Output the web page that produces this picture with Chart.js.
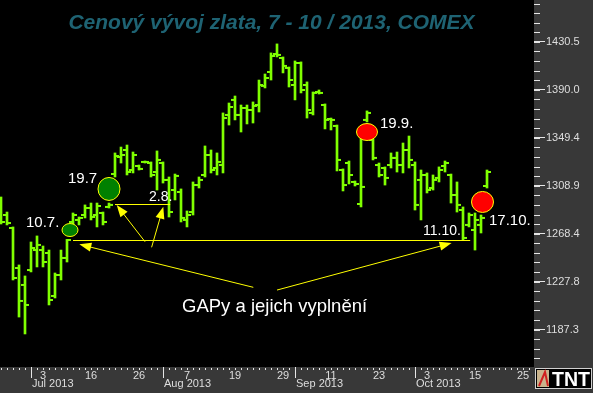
<!DOCTYPE html>
<html>
<head>
<meta charset="utf-8">
<script src="https://cdn.jsdelivr.net/npm/chart.js@4.4.0/dist/chart.umd.min.js"></script>
<style>
  html, body { margin: 0; padding: 0; background: #000; }
  canvas { display: block; }
</style>
</head>
<body>
<canvas id="chart" width="593" height="393"></canvas>
<script>
/* Trading days on the x axis (weekdays, Jul 4 and Sep 2 closed) */
const dates = [
  "2013-06-24","2013-06-25","2013-06-26","2013-06-27","2013-06-28",
  "2013-07-01","2013-07-02","2013-07-03","2013-07-05",
  "2013-07-08","2013-07-09","2013-07-10","2013-07-11","2013-07-12",
  "2013-07-15","2013-07-16","2013-07-17","2013-07-18","2013-07-19",
  "2013-07-22","2013-07-23","2013-07-24","2013-07-25","2013-07-26",
  "2013-07-29","2013-07-30","2013-07-31","2013-08-01","2013-08-02",
  "2013-08-05","2013-08-06","2013-08-07","2013-08-08","2013-08-09",
  "2013-08-12","2013-08-13","2013-08-14","2013-08-15","2013-08-16",
  "2013-08-19","2013-08-20","2013-08-21","2013-08-22","2013-08-23",
  "2013-08-26","2013-08-27","2013-08-28","2013-08-29","2013-08-30",
  "2013-09-03","2013-09-04","2013-09-05","2013-09-06",
  "2013-09-09","2013-09-10","2013-09-11","2013-09-12","2013-09-13",
  "2013-09-16","2013-09-17","2013-09-18","2013-09-19","2013-09-20",
  "2013-09-23","2013-09-24","2013-09-25","2013-09-26","2013-09-27",
  "2013-09-30","2013-10-01","2013-10-02","2013-10-03","2013-10-04",
  "2013-10-07","2013-10-08","2013-10-09","2013-10-10","2013-10-11",
  "2013-10-14","2013-10-15","2013-10-16","2013-10-17","2013-10-18",
  "2013-10-21","2013-10-22","2013-10-23","2013-10-24","2013-10-25","2013-10-28"
];

/* Daily OHLC, USD/oz */
const opens = [
  1292.6, 1284.1, 1273.1, 1239.3, 1225.0, 1237.6, 1254.5, 1254.5, 1252.0, 1215.7,
  1233.4, 1247.8, 1278.2, 1279.9, 1284.1, 1290.0, 1284.1, 1285.8, 1290.9, 1318.7,
  1333.1, 1339.0, 1322.1, 1325.5, 1328.9, 1328.0, 1320.4, 1328.0, 1313.7, 1305.2,
  1303.5, 1279.9, 1286.6, 1309.4, 1317.9, 1334.8, 1323.8, 1326.3, 1368.6, 1381.3,
  1368.6, 1374.5, 1372.8, 1377.0, 1393.1, 1404.9, 1420.1, 1416.7, 1408.3, 1393.9,
  1412.5, 1393.9, 1370.3, 1388.0, 1377.0, 1365.2, 1359.3, 1322.1, 1328.0, 1312.0,
  1293.4, 1364.4, 1347.5, 1326.3, 1323.8, 1326.3, 1332.3, 1326.3, 1339.0, 1326.3,
  1313.7, 1317.9, 1306.9, 1315.4, 1325.5, 1317.9, 1301.0, 1288.3, 1275.7, 1271.4,
  1275.7, 1308.6
];
const highs = [
  1299.3, 1286.6, 1274.0, 1241.9, 1232.6, 1261.3, 1266.4, 1257.9, 1254.5, 1235.1,
  1254.5, 1263.5, 1285.8, 1282.4, 1292.6, 1294.2, 1294.2, 1286.6, 1294.2, 1336.5,
  1341.5, 1343.2, 1337.3, 1326.3, 1329.7, 1328.9, 1338.2, 1328.9, 1316.2, 1318.7,
  1306.1, 1287.5, 1312.0, 1316.2, 1342.4, 1339.0, 1336.5, 1370.3, 1378.7, 1384.6,
  1377.0, 1377.0, 1379.6, 1398.1, 1403.2, 1421.0, 1428.6, 1417.6, 1409.1, 1414.2,
  1413.4, 1396.5, 1388.0, 1389.7, 1377.9, 1366.0, 1360.1, 1323.0, 1329.7, 1312.8,
  1355.9, 1372.0, 1348.3, 1328.0, 1324.7, 1336.5, 1337.3, 1344.9, 1350.8, 1328.9,
  1322.1, 1319.6, 1317.9, 1324.7, 1329.7, 1318.7, 1312.0, 1290.9, 1285.8, 1285.8,
  1284.1, 1322.1
];
const lows = [
  1276.5, 1275.7, 1229.2, 1197.9, 1183.6, 1236.0, 1240.2, 1240.2, 1208.1, 1214.0,
  1229.2, 1244.4, 1275.7, 1275.7, 1281.6, 1279.9, 1274.0, 1275.7, 1290.0, 1316.2,
  1328.0, 1317.9, 1319.6, 1322.1, 1328.0, 1316.2, 1305.2, 1311.1, 1282.4, 1296.8,
  1278.2, 1274.0, 1284.1, 1306.9, 1316.2, 1319.6, 1317.9, 1319.6, 1360.1, 1364.4,
  1354.2, 1361.0, 1361.8, 1371.1, 1391.4, 1398.1, 1417.6, 1404.1, 1392.2, 1381.3,
  1387.2, 1366.0, 1368.6, 1386.3, 1356.8, 1355.9, 1321.3, 1304.4, 1310.3, 1308.6,
  1290.9, 1362.7, 1330.6, 1316.2, 1309.4, 1323.8, 1320.4, 1319.6, 1323.8, 1288.3,
  1279.9, 1302.7, 1305.2, 1312.0, 1320.4, 1294.2, 1286.6, 1263.0, 1274.0, 1254.5,
  1268.9, 1306.9
];
const closes = [
  1278.2, 1277.3, 1230.9, 1211.5, 1208.1, 1256.2, 1258.8, 1244.4, 1212.3, 1233.4,
  1247.8, 1263.0, 1284.1, 1281.6, 1290.0, 1282.4, 1291.7, 1278.2, 1292.6, 1333.9,
  1334.8, 1320.4, 1334.8, 1323.0, 1328.9, 1317.9, 1330.6, 1313.7, 1286.6, 1317.1,
  1281.6, 1284.1, 1309.4, 1313.7, 1334.8, 1322.1, 1328.9, 1366.0, 1375.3, 1368.6,
  1374.5, 1372.8, 1376.2, 1393.9, 1399.8, 1418.4, 1419.3, 1410.0, 1398.1, 1412.5,
  1389.7, 1372.8, 1387.2, 1387.2, 1364.4, 1364.4, 1330.6, 1309.4, 1317.9, 1310.3,
  1307.8, 1370.3, 1332.3, 1317.9, 1315.4, 1332.3, 1326.3, 1339.0, 1330.6, 1292.6,
  1317.9, 1305.2, 1313.7, 1322.1, 1328.0, 1301.0, 1292.6, 1264.7, 1284.1, 1279.9,
  1281.6, 1320.4
];

const yTicks = [1187.3, 1227.8, 1268.4, 1308.9, 1349.4, 1390.0, 1430.5];
const dayLabelDates = ["2013-07-03","2013-07-16","2013-07-26","2013-08-07","2013-08-19","2013-08-29",
                       "2013-09-11","2013-09-23","2013-10-03","2013-10-15","2013-10-25"];
const monthStarts = ["2013-07-01","2013-08-01","2013-09-03","2013-10-01"];
const monthLabels = ["Jul 2013","Aug 2013","Sep 2013","Oct 2013"];

/* Annotations, in chart units: [bar index, price] */
const greenDots = [[11.5, 1271.4], [18.0, 1306.1]];
const redDots = [[61.0, 1354.2], [80.25, 1295.1]];
const notes = [["10.7.", 4.17, 1274.0], ["19.7", 11.17, 1311.1], ["2.8.", 24.67, 1295.9],
               ["19.9.", 63.17, 1357.6], ["11.10.", 70.33, 1267.2], ["17.10.", 81.33, 1275.7]];
const gapLines = [[12.0, 78.2, 1263.0], [19.0, 28.2, 1293.4]];   // [from, to, price]
const arrows = [[24.0, 1261.5, 19.28, 1292.5], [25.1, 1256.8, 27.05, 1291.1],
                [42.05, 1223.0, 13.05, 1259.3], [46.0, 1220.7, 75.1, 1260.4]]; // tail -> tip
const caption = ["GAPy a jejich vyplnění", 30.17, 1202.4];
const title = "Cenový vývoj zlata, 7 - 10 / 2013, COMEX";

const BAR_GREEN = "#80ff00";
const YELLOW = "#ffff00";
const AXIS_GRAY = "#383838";
const TICK_TEXT = "#dedede";
const FONT = "'Liberation Sans', Arial, sans-serif";

const dayIdx = dayLabelDates.map(d => dates.indexOf(d));

function arrow(ctx, x1, y1, x2, y2){
    const ang = Math.atan2(y2 - y1, x2 - x1);
    const len = 12, half = 4.5;
    ctx.beginPath();
    ctx.moveTo(x1, y1);
    ctx.lineTo(x2 - Math.cos(ang) * len * 0.8, y2 - Math.sin(ang) * len * 0.8);
    ctx.stroke();
    ctx.beginPath();
    ctx.moveTo(x2, y2);
    ctx.lineTo(x2 - Math.cos(ang) * len - Math.sin(ang) * half, y2 - Math.sin(ang) * len + Math.cos(ang) * half);
    ctx.lineTo(x2 - Math.cos(ang) * len + Math.sin(ang) * half, y2 - Math.sin(ang) * len - Math.cos(ang) * half);
    ctx.closePath();
    ctx.fill();
}

const decor = {
    id: "decor",
    beforeDraw(chart){
        const {ctx, chartArea: a, width, height} = chart;
        ctx.save();
        ctx.fillStyle = "#000";
        ctx.fillRect(0, 0, width, height);
        ctx.fillStyle = AXIS_GRAY;
        ctx.fillRect(a.right, 0, width - a.right, height);
        ctx.fillRect(0, a.bottom, width, height - a.bottom);
        ctx.restore();
    },
    afterDatasetsDraw(chart){
        const {ctx} = chart;
        const xs = chart.scales.x, ys = chart.scales.y;
        const X = v => xs.getPixelForValue(v), Y = v => ys.getPixelForValue(v);
        ctx.save();

        /* gap lines and arrows */
        ctx.strokeStyle = YELLOW;
        ctx.fillStyle = YELLOW;
        ctx.lineWidth = 1;
        gapLines.forEach(([a, b, p]) => {
            const y = Math.round(Y(p)) + 0.5;
            ctx.beginPath();
            ctx.moveTo(X(a), y);
            ctx.lineTo(X(b), y);
            ctx.stroke();
        });
        arrows.forEach(([a, p, b, q]) => arrow(ctx, X(a), Y(p), X(b), Y(q)));

        /* gap markers */
        const dotSize = [[8, 6.5], [11, 11.5], [10.5, 8.5], [11, 10.5]];
        [...greenDots, ...redDots].forEach(([i, p], k) => {
            ctx.beginPath();
            ctx.ellipse(X(i), Y(p), dotSize[k][0], dotSize[k][1], 0, 0, Math.PI * 2);
            ctx.fillStyle = k < 2 ? "#008000" : "#ff0000";
            ctx.fill();
            ctx.strokeStyle = YELLOW;
            ctx.stroke();
        });

        /* date notes */
        ctx.fillStyle = "#ffffff";
        ctx.textAlign = "left";
        ctx.textBaseline = "alphabetic";
        notes.forEach(([t, i, p]) => {
            ctx.font = (t === "2.8." || t === "11.10." ? "14px " : "15px ") + FONT;
            ctx.fillText(t, X(i), Y(p));
        });
        ctx.font = "18.5px " + FONT;
        ctx.fillText(caption[0], X(caption[1]), Y(caption[2]));
        ctx.restore();
    },
    afterDraw(chart){
        const {ctx, chartArea: a, width, height} = chart;
        const xs = chart.scales.x, ys = chart.scales.y;
        ctx.save();

        /* title */
        ctx.font = "italic bold 21px " + FONT;
        ctx.fillStyle = "#1e6373";
        ctx.textAlign = "center";
        ctx.textBaseline = "alphabetic";
        ctx.fillText(title, 271.5, 29);

        /* minor ticks of the price axis */
        ctx.fillStyle = "#e6e6e6";
        const step = (yTicks[1] - yTicks[0]) / 5;
        for(let v = yTicks[0] - 5 * step; v <= ys.max; v += step){
            if(v < ys.min) continue;
            const y = Math.round(ys.getPixelForValue(v));
            ctx.fillRect(a.right, y, 6, 1);
        }

        /* day dots, month dividers and month names on the time axis */
        for(let i = 0; i < dates.length; i++){
            const x = Math.round(xs.getPixelForValue(i));
            if(x >= a.right) break;
            ctx.fillRect(x, a.bottom + 1, 1, 2);
        }
        ctx.font = "11px " + FONT;
        ctx.fillStyle = TICK_TEXT;
        ctx.textAlign = "left";
        monthStarts.forEach((d, k) => {
            const x = Math.round(xs.getPixelForValue(dates.indexOf(d)));
            ctx.fillStyle = "#e6e6e6";
            ctx.fillRect(x, a.bottom, 1, 11);
            ctx.fillStyle = TICK_TEXT;
            ctx.fillText(monthLabels[k], x + 1, a.bottom + 20);
        });

        /* TNT logo */
        const lx = a.right + 1, ly = a.bottom + 1;
        ctx.fillStyle = "#000";
        ctx.fillRect(lx, ly, width - lx - 1, 21);
        ctx.strokeStyle = "#d0d0d0";
        ctx.strokeRect(lx + 0.5, ly + 0.5, width - lx - 2, 20);
        ctx.fillStyle = "#c9b38c";
        ctx.fillRect(lx + 2, ly + 2, 12, 17);
        ctx.strokeStyle = "#d02020";
        ctx.lineWidth = 2;
        ctx.beginPath();
        ctx.moveTo(lx + 4, ly + 18);
        ctx.lineTo(lx + 10, ly + 4);
        ctx.lineTo(lx + 13, ly + 18);
        ctx.stroke();
        ctx.fillStyle = "#ffffff";
        ctx.font = "bold 20px " + FONT;
        ctx.textAlign = "left";
        ctx.fillText("TNT", lx + 17, ly + 18, width - lx - 20);
        ctx.restore();
    }
};

const barData = opens.map((o, i) => ({x: i, y: [lows[i], highs[i]]}));
const openData = opens.map((o, i) => ({x: i - 0.3333, y: o}));
const closeData = closes.map((c, i) => ({x: i + 0.3333, y: c}));

new Chart(document.getElementById("chart").getContext("2d"), {
    type: "bar",
    data: {
        datasets: [{
            data: barData,
            backgroundColor: BAR_GREEN,
            borderWidth: 0,
            barThickness: 2,
            grouped: false
        },
        {
            type: "line",
            data: openData,
            showLine: false,
            pointStyle: "line",
            pointRadius: 2,
            pointHoverRadius: 2,
            pointBorderWidth: 2,
            pointBorderColor: BAR_GREEN,
            pointBackgroundColor: BAR_GREEN
        },
        {
            type: "line",
            data: closeData,
            showLine: false,
            pointStyle: "line",
            pointRadius: 2,
            pointHoverRadius: 2,
            pointBorderWidth: 2,
            pointBorderColor: BAR_GREEN,
            pointBackgroundColor: BAR_GREEN
        }]
    },
    options: {
        responsive: false,
        animation: false,
        events: [],
        layout: { padding: 0, autoPadding: false },
        plugins: {
            legend: { display: false },
            tooltip: { enabled: false },
            title: { display: false }
        },
        scales: {
            x: {
                type: "linear",
                offset: false,
                min: -1 / 6,
                max: 88.8333,
                grid: { display: false, drawTicks: false, tickLength: 0 },
                border: { display: false },
                afterFit: s => { s.height = 26; s.paddingLeft = 0; s.paddingRight = 0; },
                afterBuildTicks: s => { s.ticks = dayIdx.map(v => ({value: v})); },
                ticks: {
                    autoSkip: false,
                    maxRotation: 0,
                    padding: 2,
                    color: TICK_TEXT,
                    font: { family: FONT, size: 11 },
                    callback: v => String(parseInt(dates[v].slice(8), 10))
                }
            },
            y: {
                type: "linear",
                position: "right",
                min: 1155.7,
                max: 1465.7,
                grid: { drawOnChartArea: false, drawTicks: true, tickLength: 11, color: "#e6e6e6" },
                border: { display: false },
                afterFit: s => { s.width = 59; s.paddingTop = 0; s.paddingBottom = 0; },
                afterBuildTicks: s => { s.ticks = yTicks.map(v => ({value: v})); },
                ticks: {
                    padding: 1,
                    color: TICK_TEXT,
                    font: { family: FONT, size: 11 },
                    callback: v => v.toFixed(1)
                }
            }
        }
    },
    plugins: [decor]
});
</script>
</body>
</html>
